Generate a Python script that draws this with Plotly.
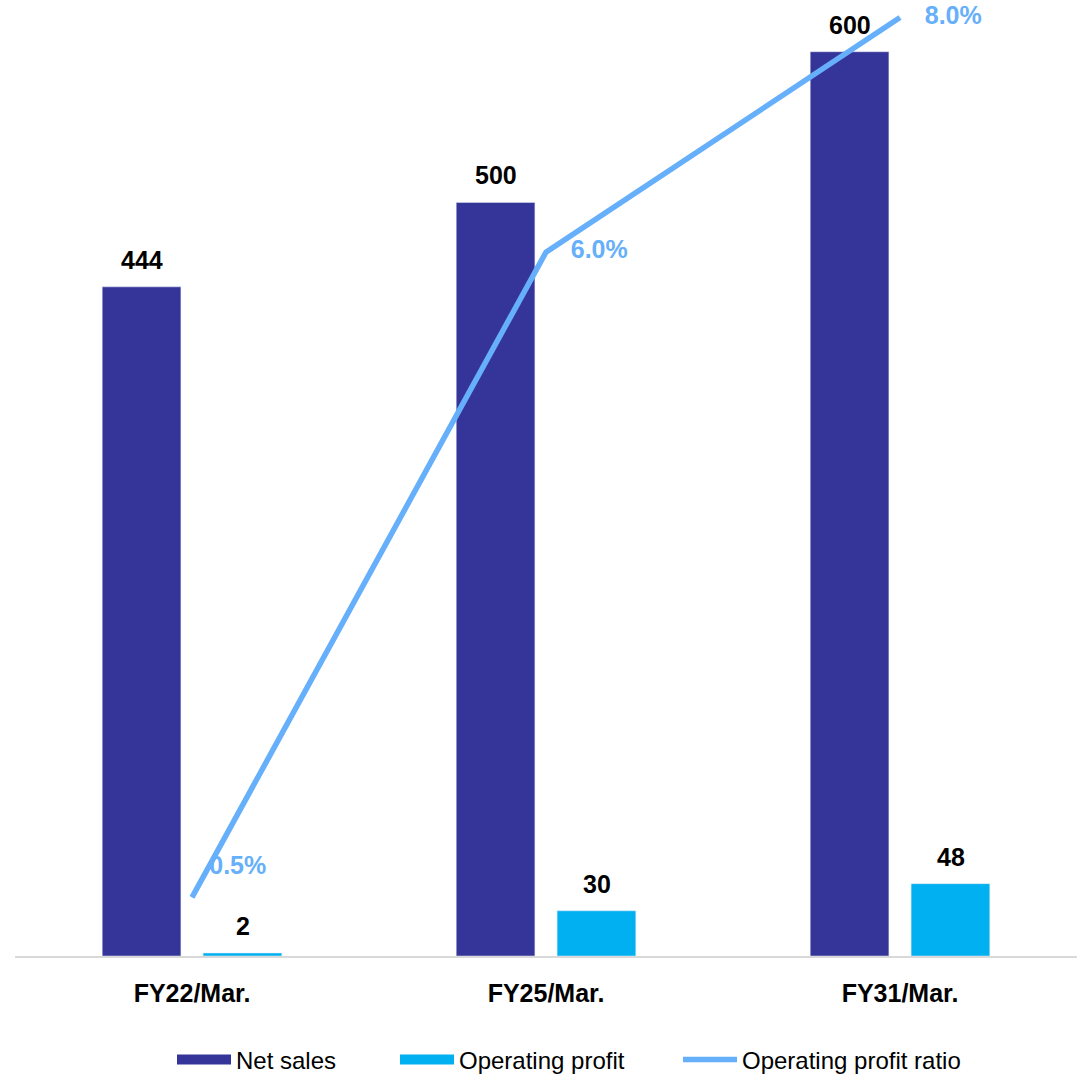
import plotly.graph_objects as go

categories = ["FY22/Mar.", "FY25/Mar.", "FY31/Mar."]
net_sales = [444, 500, 600]
operating_profit = [2, 30, 48]
op_ratio = [0.5, 6.0, 8.0]
ratio_labels = ["0.5%", "6.0%", "8.0%"]

C_NET = "#353499"
C_OP = "#00B0F0"
C_RATIO = "#66AFFA"
FONT = "Liberation Sans Narrow, Arial Narrow, Liberation Sans, Arial, sans-serif"
FS = 25

fig = go.Figure()

fig.add_trace(go.Bar(
    x=categories, y=net_sales, name="Net sales", marker_color=C_NET,
    showlegend=False, hoverinfo="x+y",
))
fig.add_trace(go.Bar(
    x=categories, y=operating_profit, name="Operating profit", marker_color=C_OP,
    showlegend=False, hoverinfo="x+y",
))
fig.add_trace(go.Scatter(
    x=categories, y=op_ratio, name="Operating profit ratio", yaxis="y2",
    mode="lines+markers+text", line=dict(color=C_RATIO, width=5.5),
    marker=dict(size=[26, 38, 38], color="rgba(0,0,0,0)",
                line=dict(width=0, color="rgba(0,0,0,0)")),
    text=ratio_labels, textposition=["top right", "middle right", "middle right"],
    textfont=dict(family=FONT, size=FS, color=C_RATIO, weight="bold"),
    cliponaxis=False, showlegend=False,
))
# legend entries
fig.add_trace(go.Scatter(x=[None], y=[None], mode="lines", name="Net sales",
                         line=dict(color=C_NET, width=15), legend="legend"))
fig.add_trace(go.Scatter(x=[None], y=[None], mode="lines", name="Operating profit",
                         line=dict(color=C_OP, width=15), legend="legend2"))
fig.add_trace(go.Scatter(x=[None], y=[None], mode="lines", name="Operating profit ratio",
                         line=dict(color=C_RATIO, width=5.5), legend="legend3"))

# bar value labels (placed at each bar's value, shifted to its slot in the group)
annotations = []
for series, shift in ((net_sales, -50.5), (operating_profit, 50.5)):
    for cat, v in zip(categories, series):
        annotations.append(dict(
            x=cat, y=v, xref="x", yref="y", text=str(v), showarrow=False,
            xshift=shift, yshift=11, yanchor="bottom",
            font=dict(family=FONT, size=FS, color="black", weight="bold"),
        ))

leg_common = dict(orientation="h", xref="container", yref="container",
                  yanchor="middle", xanchor="left", y=1 - 1060 / 1076,
                  font=dict(family=FONT, size=24, color="black"),
                  bgcolor="rgba(0,0,0,0)", borderwidth=0, itemwidth=54)

fig.update_layout(
    width=1080, height=1076,
    margin=dict(l=15, r=3, t=5, b=120),
    paper_bgcolor="white", plot_bgcolor="white",
    barmode="group", bargap=0.43, bargroupgap=0.22,
    font=dict(family=FONT, size=FS, color="black"),
    xaxis=dict(showline=True, linecolor="#D9D9D9", linewidth=2, showgrid=False,
               ticks="", ticklabelstandoff=14,
               tickfont=dict(family=FONT, size=FS, color="black", weight="bold")),
    yaxis=dict(range=[0, 631], visible=False, showgrid=False),
    yaxis2=dict(range=[0, 8.107], overlaying="y", visible=False, showgrid=False),
    legend=dict(x=172 / 1080, **leg_common),
    legend2=dict(x=395 / 1080, **leg_common),
    legend3=dict(x=678 / 1080, **leg_common),
    annotations=annotations,
    showlegend=True,
)

fig.write_html("out.html")
